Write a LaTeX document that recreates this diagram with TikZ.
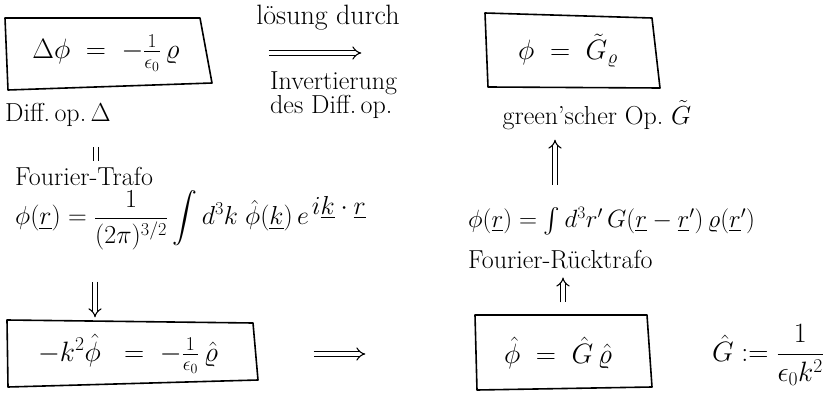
\documentclass[tikz,border=0pt]{standalone}
\usepackage{fix-cm}
\usepackage{amsmath}
\usetikzlibrary{arrows.meta}
\begin{document}
\begin{tikzpicture}[x=1pt,y=-1pt,
  boxline/.style={draw, line width=1.6pt, line join=round},
  box/.style={inner sep=0pt, font=\fontsize{28}{32}\selectfont},
  lbl/.style={inner sep=0pt, font=\fontsize{26}{28}\selectfont},
  dbl/.style={double, double distance=3.5pt, line width=1.1pt, -{Implies}},
  eqline/.style={double, double distance=3.5pt, line width=1.1pt},
]
\useasboundingbox (0,0) rectangle (830,401);
\fill[white] (0,0) rectangle (830,401);

% boxes and their hand-drawn frames
\node[box, minimum width=207pt, minimum height=72pt] (box1) at (106,53) {$\Delta\phi \;=\; -\tfrac{1}{\epsilon_0}\,\varrho$};
\draw[boxline] (5,18) -- (200,18) -- (212,83) -- (8,90) -- cycle;

\node[box, minimum width=175pt, minimum height=75pt] (box2) at (568,50.5) {$\phi \;=\; \tilde{G}_{\varrho}$};
\draw[boxline] (485,13) -- (652,18) -- (660,88) -- (488,87) -- cycle;

\node[box, minimum width=251pt, minimum height=67pt] (box3) at (128,354) {$-k^2\hat{\phi} \;\;=\; -\tfrac{1}{\epsilon_0}\,\hat{\varrho}$};
\draw[boxline] (7,320) -- (253,323) -- (258,380) -- (8,387) -- cycle;

\node[box, minimum width=177pt, minimum height=75pt] (box4) at (558,353) {$\hat{\phi} \;=\; \hat{G}\,\hat{\varrho}$};
\draw[boxline] (475,315) -- (647,315) -- (652,387) -- (477,390) -- cycle;

% labels
\node[lbl, anchor=west] (diffop) at (5,115) {Diff.\,op.\,$\Delta$};
\node[lbl, font=\fontsize{28}{30}\selectfont] (loesung) at (328,18) {lösung durch};
\node[lbl, align=left, anchor=west, font=\fontsize{26}{23}\selectfont] (invert) at (270,95) {Invertierung\\des Diff.\,op.};
\node[lbl] (green) at (597,115) {green'scher Op.\ $\tilde{G}$};
\node[lbl, anchor=west] (fourier) at (15,176) {Fourier-Trafo};
\node[lbl, anchor=west, font=\fontsize{26}{30}\selectfont] (ftf) at (15,220) {$\phi(\underline{r}) = \dfrac{1}{(2\pi)^{3/2}}\displaystyle\int d^3k\;\hat{\phi}(\underline{k})\,e^{\,\textstyle i\underline{k}\cdot\underline{r}}$};
\node[lbl, anchor=west, font=\fontsize{25}{28}\selectfont] (invf) at (468,221) {$\phi(\underline{r}) = \int d^3r'\,G(\underline{r}-\underline{r}')\,\varrho(\underline{r}')$};
\node[lbl, anchor=west] (rueck) at (468,260) {Fourier-Rücktrafo};
\node[lbl, font=\fontsize{28}{30}\selectfont] (ghat) at (768,355) {$\hat{G} := \dfrac{1}{\epsilon_0 k^2}$};

% free ends of the short equivalence mark
\coordinate (eqtop) at (96,147);
\coordinate (eqbot) at (96,161);

% connectors
\draw[dbl, shorten <=59pt, shorten >=119pt] (box1.east) -- (box2.west |- box1.east);
\draw[eqline] (eqtop) -- (eqbot);
\draw[dbl, shorten <=32pt, shorten >=3pt] ([xshift=-33pt]box3.north |- ftf.south) -- ([xshift=-33pt]box3.north);
\draw[dbl, shorten <=60pt, shorten >=104pt] (box3.east) -- (box4.west |- box3.east);
\draw[dbl, shorten <=13pt, shorten >=8pt] ([xshift=5pt]box4.north) -- ([xshift=5pt]box4.north |- rueck.south);
\draw[dbl, shorten <=22pt, shorten >=10pt] ([xshift=-13pt]box2.south |- invf.north) -- ([xshift=-13pt]box2.south |- green.south);
\end{tikzpicture}
\end{document}
